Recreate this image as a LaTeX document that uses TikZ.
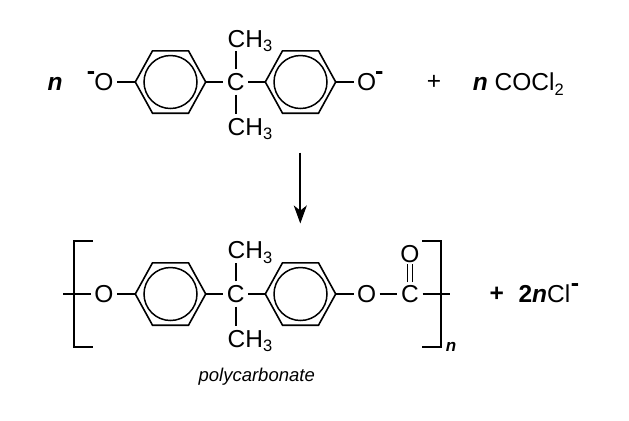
\documentclass[tikz,border=0pt]{standalone}
\usepackage{fontspec}
\setmainfont{Liberation Sans}
\usetikzlibrary{arrows.meta}
\newcommand{\sub}[1]{\raisebox{-4.5bp}{\fontsize{16.5bp}{17bp}\selectfont #1}}
\tikzset{
  bond/.style={line width=1.6bp,black,line cap=butt},
  bracket/.style={line width=1.7bp,black,line join=miter},
  atom/.style={circle,inner sep=0pt,minimum size=24bp,font=\fontsize{24.5bp}{26bp}\selectfont},
  plain/.style={inner sep=0pt,font=\fontsize{24.5bp}{26bp}\selectfont},
  group/.style={inner sep=0pt,anchor=base west,font=\fontsize{24.5bp}{26bp}\selectfont},
  charge/.style={inner sep=0pt,font=\fontsize{25bp}{26bp}\selectfont\bfseries},
  aromatic/.style={circle,draw,line width=1.5bp,minimum size=53bp,inner sep=0pt},
  reaction/.style={line width=1.7bp,-{Stealth[length=18bp,width=13bp,inset=5bp]}}
}
\newcommand{\ringat}[3]{%
  \node[aromatic] (#1) at (#2,#3) {};
  \coordinate (#1l) at (#2-35.2,#3);
  \coordinate (#1r) at (#2+35.2,#3);
  \draw[bond,line join=miter] (#1l) -- (#2-18,#3-31.2) -- (#2+18,#3-31.2) -- (#1r) -- (#2+18,#3+31.2) -- (#2-18,#3+31.2) -- cycle;
}
\begin{document}
\begin{tikzpicture}[x=1bp,y=-1bp]
\useasboundingbox (0,0) rectangle (629,420);
% --- top row
\node[plain,font=\fontsize{24.5bp}{26bp}\selectfont\bfseries\itshape] (n1) at (55,84) {n};
\node[atom] (o1) at (104,82) {O};
\node[charge] (m1) at (91,75.7) {-};
\ringat{ra}{170.5}{82}
\node[atom] (c1) at (235.7,82) {C};
\ringat{rb}{300.5}{82}
\node[atom] (o2) at (366.7,82) {O};
\node[charge] (m2) at (379.2,75.7) {-};
\node[group] (ch1) at (227.5,47.3) {CH\sub{3}};
\node[group] (ch2) at (227.5,135) {CH\sub{3}};
\coordinate (ch1b) at (235.7,50.7);
\coordinate (ch2b) at (235.7,114);
\draw[bond] (o1) -- (ral);
\draw[bond] (rar) -- (c1);
\draw[bond] (c1) -- (rbl);
\draw[bond] (rbr) -- (o2);
\draw[bond] (c1) -- (ch1b);
\draw[bond] (c1) -- (ch2b);
\node[plain] (p1) at (434,82) {+};
\node[group] (cocl) at (472.7,90.5) {{\bfseries\itshape n} COCl\sub{2}};
% --- reaction arrow
\coordinate (ar0) at (300.3,152.7);
\coordinate (ar1) at (300.3,223.5);
\draw[reaction] (ar0) -- (ar1);
% --- bottom row
\node[atom] (o3) at (104,294) {O};
\ringat{rc}{170.5}{294}
\node[atom] (c2) at (235.7,294) {C};
\ringat{rd}{300.5}{294}
\node[atom] (o4) at (366.7,294) {O};
\node[atom] (c3) at (410,294) {C};
\node[atom] (o5) at (410,254.3) {O};
\node[group] (ch3) at (227.5,258.8) {CH\sub{3}};
\node[group] (ch4) at (227.5,347) {CH\sub{3}};
\coordinate (ch3b) at (235.7,262.7);
\coordinate (ch4b) at (235.7,326);
\coordinate (tl) at (63,294);
\coordinate (tr) at (450,294);
\draw[bond] (tl) -- (o3);
\draw[bond] (o3) -- (rcl);
\draw[bond] (rcr) -- (c2);
\draw[bond] (c2) -- (rdl);
\draw[bond] (rdr) -- (o4);
\draw[bond] (o4) -- (c3);
\draw[bond] (c3) -- (tr);
\draw[bond] (c2) -- (ch3b);
\draw[bond] (c2) -- (ch4b);
\draw[bond] ([xshift=-2.5bp,yshift=-1bp]c3.north) -- ([xshift=-2.5bp,yshift=3.3bp]o5.south);
\draw[bond] ([xshift=2.5bp,yshift=-1bp]c3.north) -- ([xshift=2.5bp,yshift=3.3bp]o5.south);
\draw[bracket] (92.7,240.7) -- (74,240.7) -- (74,346.7) -- (92.7,346.7);
\draw[bracket] (422.3,240.7) -- (441.3,240.7) -- (441.3,346.7) -- (422.3,346.7);
\node[plain,font=\fontsize{17bp}{18bp}\selectfont\bfseries\itshape] (n2) at (451,346.5) {n};
\node[plain,font=\fontsize{24.5bp}{26bp}\selectfont\bfseries] (p2) at (496.7,294) {+};
\node[group] (cl) at (518.3,302.5) {{\bfseries 2\itshape n}Cl};
\node[charge] (m3) at (575,288) {-};
\node[plain,font=\fontsize{18.5bp}{20bp}\selectfont\itshape] (poly) at (256.7,376.7) {polycarbonate};
\end{tikzpicture}
\end{document}
